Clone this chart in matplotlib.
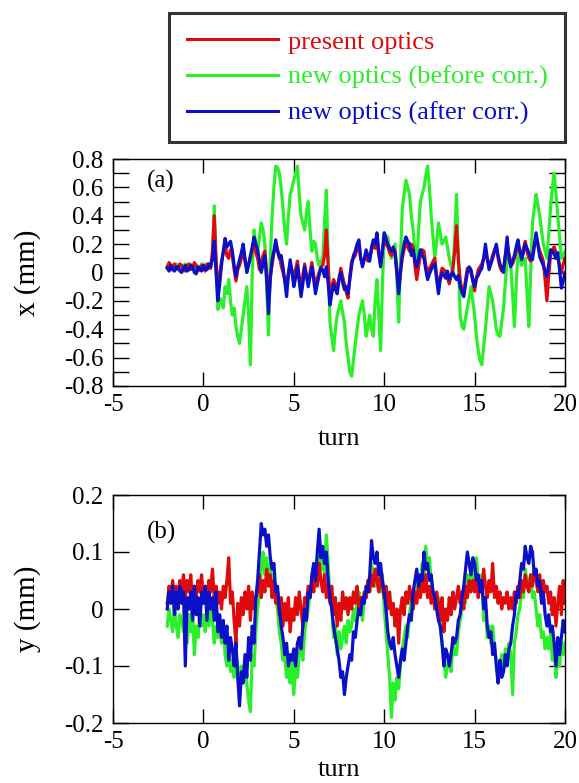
import numpy as np
import matplotlib
matplotlib.use("Agg")
import matplotlib.pyplot as plt
from matplotlib.ticker import MultipleLocator, FuncFormatter

plt.rcParams['font.family'] = ['Liberation Serif', 'DejaVu Serif']
plt.rcParams['axes.unicode_minus'] = False

# ---------------- data (sampled every 0.1 turn from -2 to 20) ----------------
turn_start, turn_end = -2.0, 20.0

# panel (a): horizontal orbit x (mm)
xa_present = [0.04, 0.07, 0.02, 0.04, 0.06, 0.02, 0.03, 0.06, 0.05, 0.02, 0.01, 0.05, 0.06, 0.02, 0.03, 0.07, 0.05, 0.01, 0.02, 0.05,
              0.04, 0.01, 0.06, 0.03, 0.03, 0.15, 0.40, 0.10, -0.15, -0.02, 0.08, 0.14, 0.20, 0.12, 0.10, 0.16, 0.12, 0.02, -0.06, 0.02,
              0.05, 0.10, 0.15, 0.08, 0.03, 0.06, 0.10, 0.16, 0.20, 0.14, 0.10, 0.02, 0.05, 0.12, 0.15, 0.00, -0.20, -0.02, 0.05, 0.14,
              0.20, 0.16, 0.12, 0.05, 0.00, -0.05, -0.10, 0.00, 0.06, 0.02, -0.05, 0.02, 0.08, -0.03, -0.12, -0.02, 0.06, -0.02, -0.08, 0.00,
              0.07, -0.02, -0.10, -0.04, 0.00, 0.04, 0.05, 0.12, 0.30, 0.05, -0.18, -0.10, -0.05, -0.08, -0.12, -0.04, 0.03, -0.03, -0.08, -0.14,
              -0.18, -0.02, 0.08, 0.10, 0.12, 0.17, 0.20, 0.10, 0.06, 0.09, 0.12, 0.08, 0.10, 0.16, 0.20, 0.17, 0.22, 0.12, 0.06, 0.15,
              0.25, 0.20, 0.18, 0.14, 0.12, 0.17, 0.15, 0.02, -0.12, 0.00, 0.10, 0.16, 0.22, 0.18, 0.15, 0.20, 0.18, 0.05, -0.05, 0.04,
              0.12, 0.16, 0.15, 0.05, -0.02, 0.03, 0.05, 0.08, 0.10, -0.02, -0.10, -0.03, 0.03, 0.02, 0.00, -0.04, -0.08, -0.02, 0.03, 0.15,
              0.33, 0.10, -0.05, -0.12, -0.15, -0.05, 0.03, 0.02, 0.00, -0.06, -0.13, -0.04, 0.02, 0.04, 0.06, 0.10, 0.15, 0.09, 0.05, 0.08,
              0.12, 0.16, 0.18, 0.10, 0.04, 0.01, 0.03, 0.12, 0.20, 0.13, 0.08, 0.06, 0.10, 0.15, 0.20, 0.15, 0.12, 0.17, 0.22, 0.15,
              0.10, 0.08, 0.12, 0.20, 0.25, 0.20, 0.15, 0.12, 0.08, -0.05, -0.20, -0.02, 0.12, 0.16, 0.18, 0.14, 0.10, 0.05, 0.00, 0.06,
              0.10]

xa_before = [0.04, 0.02, 0.06, 0.04, 0.03, 0.06, 0.05, 0.02, 0.02, 0.05, 0.06, 0.03, 0.04, 0.06, 0.03, 0.02, 0.05, 0.03, 0.04, 0.06,
             0.06, 0.02, 0.03, 0.06, 0.05, 0.10, 0.47, 0.05, -0.26, -0.18, -0.20, -0.25, -0.10, -0.15, -0.05, -0.20, -0.30, -0.25, -0.38, -0.45,
             -0.50, -0.40, -0.30, -0.20, -0.10, -0.30, -0.65, 0.00, 0.30, 0.20, 0.15, 0.25, 0.35, 0.30, 0.20, -0.10, -0.44, 0.10, 0.40, 0.60,
             0.75, 0.74, 0.70, 0.60, 0.45, 0.30, 0.20, 0.40, 0.55, 0.60, 0.65, 0.70, 0.75, 0.55, 0.40, 0.35, 0.30, 0.42, 0.50, 0.30,
             0.15, 0.22, 0.20, 0.10, 0.05, 0.08, 0.10, 0.35, 0.58, 0.10, -0.35, -0.45, -0.55, -0.40, -0.30, -0.25, -0.20, -0.28, -0.35, -0.50,
             -0.60, -0.70, -0.73, -0.62, -0.50, -0.40, -0.30, -0.25, -0.20, -0.30, -0.45, -0.38, -0.30, -0.40, -0.45, -0.20, -0.05, -0.30, -0.55, -0.10,
             0.28, 0.26, 0.25, 0.15, 0.10, 0.15, 0.20, -0.05, -0.35, 0.10, 0.45, 0.55, 0.65, 0.60, 0.55, 0.40, 0.30, 0.15, 0.05, 0.30,
             0.50, 0.55, 0.60, 0.68, 0.75, 0.60, 0.40, 0.25, 0.10, 0.22, 0.35, 0.28, 0.20, 0.22, 0.25, 0.18, 0.10, 0.05, 0.00, 0.25,
             0.55, 0.10, -0.30, -0.38, -0.40, -0.32, -0.25, -0.18, -0.10, -0.20, -0.30, -0.45, -0.55, -0.62, -0.65, -0.52, -0.40, -0.25, -0.10, -0.15,
             -0.20, -0.30, -0.40, -0.44, -0.45, -0.35, -0.25, -0.08, 0.10, 0.08, 0.05, -0.15, -0.38, -0.10, 0.15, 0.10, 0.05, 0.08, 0.10, -0.15,
             -0.38, 0.00, 0.35, 0.45, 0.55, 0.48, 0.40, 0.30, 0.20, 0.15, 0.10, 0.28, 0.45, 0.60, 0.70, 0.55, 0.40, 0.25, 0.10, 0.12,
             0.15]

xa_after = [0.03, 0.01, 0.05, 0.02, 0.01, 0.04, 0.04, 0.01, 0.00, 0.03, 0.05, 0.01, 0.02, 0.05, 0.04, 0.00, -0.01, 0.04, 0.03, 0.01,
            0.05, 0.02, 0.02, 0.06, 0.04, 0.10, 0.22, 0.00, -0.20, -0.08, 0.05, 0.15, 0.24, 0.18, 0.20, 0.22, 0.15, 0.05, -0.03, 0.04,
            0.09, 0.14, 0.20, 0.10, 0.00, 0.05, 0.12, 0.18, 0.25, 0.20, 0.16, 0.08, 0.00, 0.06, 0.12, -0.05, -0.29, -0.05, 0.09, 0.15,
            0.23, 0.15, 0.10, 0.12, 0.04, -0.06, -0.17, -0.02, 0.09, 0.00, -0.10, -0.04, 0.05, -0.06, -0.17, -0.08, 0.04, -0.03, -0.10, -0.02,
            0.04, -0.05, -0.15, -0.08, -0.02, 0.03, 0.02, -0.03, 0.04, -0.08, -0.23, -0.15, -0.08, -0.12, -0.15, -0.05, 0.00, -0.07, -0.12, -0.10,
            -0.15, -0.05, 0.05, 0.12, 0.15, 0.20, 0.23, 0.10, 0.04, 0.10, 0.16, 0.12, 0.08, 0.18, 0.23, 0.20, 0.28, 0.15, 0.04, 0.15,
            0.28, 0.24, 0.20, 0.17, 0.15, 0.18, 0.13, 0.00, -0.15, 0.00, 0.13, 0.20, 0.25, 0.22, 0.20, 0.12, 0.16, 0.08, 0.04, 0.10,
            0.16, 0.12, 0.10, 0.02, -0.05, -0.01, 0.02, 0.05, 0.06, -0.05, -0.15, -0.05, 0.00, -0.02, -0.04, 0.01, -0.05, -0.02, 0.00, -0.03,
            -0.05, -0.02, -0.10, -0.14, -0.17, -0.08, 0.00, 0.04, 0.02, -0.05, -0.10, -0.04, -0.02, 0.01, 0.03, 0.10, 0.20, 0.10, 0.02, 0.06,
            0.10, 0.15, 0.20, 0.12, 0.06, 0.03, 0.00, 0.12, 0.25, 0.10, 0.04, 0.08, 0.12, 0.18, 0.23, 0.15, 0.09, 0.14, 0.20, 0.17,
            0.14, 0.10, 0.09, 0.18, 0.28, 0.20, 0.11, 0.08, 0.05, 0.01, -0.03, 0.06, 0.16, 0.15, 0.13, 0.10, 0.14, 0.02, -0.11, -0.06,
            0.00]

# panel (b): vertical orbit y (mm)
yb_present = [0.01, 0.04, 0.02, 0.05, 0.02, 0.04, 0.01, 0.05, 0.03, 0.06,
              0.02, 0.05, 0.03, 0.06, 0.01, 0.04, 0.02, 0.05, 0.03, 0.06,
              0.02, 0.04, 0.01, 0.05, 0.03, 0.07, 0.02, 0.04, 0.01, 0.03,
              0.00, 0.04, 0.02, 0.05, 0.09, 0.01, 0.03, -0.02, -0.06, 0.01,
              -0.03, 0.02, -0.01, 0.03, 0.00, 0.04, -0.02, 0.03, 0.00, 0.02,
              0.03, 0.06, 0.02, 0.05, 0.03, 0.07, 0.04, 0.06, 0.02, 0.05,
              0.01, 0.03, -0.01, 0.02, -0.03, 0.01, -0.02, 0.02, -0.04, 0.00,
              -0.02, 0.02, -0.01, 0.03, 0.00, -0.03, 0.02, 0.01, 0.04, 0.02,
              0.05, 0.03, 0.07, 0.04, 0.08, 0.05, 0.03, 0.06, 0.02, 0.04,
              0.01, 0.04, -0.01, 0.02, -0.03, 0.01, -0.02, 0.03, 0.00, 0.02,
              -0.01, 0.02, 0.00, 0.03, 0.01, 0.04, 0.00, 0.02, 0.01, 0.03,
              0.02, 0.05, 0.03, 0.06, 0.04, 0.07, 0.05, 0.03, 0.06, 0.04,
              0.02, 0.04, 0.00, 0.03, -0.01, 0.01, -0.03, 0.00, -0.06, 0.00,
              0.02, -0.01, 0.03, 0.01, 0.04, 0.02, 0.00, 0.03, 0.01, 0.04,
              0.02, 0.05, 0.03, 0.06, 0.02, 0.04, 0.01, 0.03, 0.00, 0.03,
              0.01, -0.02, 0.02, -0.04, 0.00, -0.02, 0.02, -0.01, 0.03, 0.00,
              0.02, 0.04, 0.01, 0.03, 0.00, 0.04, 0.02, 0.05, 0.03, 0.05,
              0.03, 0.06, 0.02, 0.05, 0.03, 0.07, 0.04, 0.02, 0.05, 0.03,
              0.08, 0.02, 0.04, 0.01, 0.03, 0.00, 0.02, 0.01, 0.03, 0.00,
              0.02, 0.00, 0.03, 0.01, 0.04, 0.02, 0.05, 0.03, 0.06, 0.04,
              0.03, 0.06, 0.04, 0.07, 0.05, 0.03, 0.06, 0.02, 0.05, 0.03,
              0.04, 0.01, 0.03, -0.01, 0.02, -0.03, 0.01, 0.04, -0.01, 0.05,
              0.01]

yb_before = [-0.03, 0.00, -0.02, -0.04, 0.01, -0.03, -0.05, -0.01, -0.02, -0.04,
             -0.02, -0.06, -0.01, -0.04, 0.00, -0.08, -0.03, -0.05, -0.01, -0.03,
             -0.01, -0.04, 0.00, -0.03, 0.01, -0.02, -0.06, -0.03, -0.05, -0.02,
             -0.06, -0.03, -0.08, -0.10, -0.07, -0.11, -0.09, -0.12, -0.08, -0.10,
             -0.14, -0.10, -0.12, -0.09, -0.13, -0.16, -0.18, -0.08, -0.10, -0.04,
             0.00, 0.03, 0.07, 0.10, 0.06, 0.09, 0.05, 0.08, 0.04, 0.06,
             0.02, 0.00, -0.04, -0.06, -0.09, -0.08, -0.12, -0.10, -0.13, -0.09,
             -0.15, -0.10, -0.12, -0.08, -0.06, -0.09, -0.04, -0.02, 0.00, 0.03,
             0.05, 0.03, 0.08, 0.06, 0.10, 0.07, 0.09, 0.06, 0.13, 0.08,
             0.02, 0.00, -0.05, -0.03, -0.08, -0.04, -0.07, -0.05, -0.03, -0.06,
             -0.02, -0.04, -0.03, 0.00, -0.02, 0.01, 0.03, 0.00, -0.02, 0.02,
             0.02, 0.04, 0.05, 0.08, 0.06, 0.04, 0.07, 0.05, 0.03, 0.06,
             0.00, -0.04, -0.08, -0.12, -0.19, -0.13, -0.16, -0.12, -0.14, -0.10,
             -0.07, -0.05, -0.03, -0.05, -0.01, 0.02, 0.00, 0.05, 0.03, 0.06,
             0.04, 0.08, 0.06, 0.11, 0.07, 0.09, 0.05, 0.03, 0.00, 0.02,
             0.02, -0.03, -0.06, -0.09, -0.12, -0.10, -0.08, -0.11, -0.06, -0.08,
             -0.08, -0.04, -0.02, 0.00, 0.03, 0.01, 0.06, 0.04, 0.07, 0.05,
             0.07, 0.09, 0.05, 0.03, 0.06, -0.02, 0.00, -0.05, -0.03, -0.06,
             -0.03, -0.07, -0.09, -0.12, -0.10, -0.08, -0.11, -0.07, -0.09, -0.06,
             -0.08, -0.15, -0.06, -0.04, -0.01, 0.00, 0.04, 0.02, 0.07, 0.05,
             0.04, 0.06, 0.02, 0.03, 0.00, -0.03, -0.01, -0.05, -0.04, -0.07,
             -0.05, -0.07, -0.04, -0.09, -0.06, -0.12, -0.08, -0.10, -0.06, -0.08,
             -0.06]

yb_after = [0.00, 0.03, 0.01, 0.04, -0.01, 0.03, 0.00, 0.04, 0.01, 0.03,
            -0.10, 0.02, 0.00, 0.03, -0.02, 0.04, -0.01, 0.02, -0.03, 0.03,
            0.01, 0.04, -0.02, 0.03, 0.00, 0.02, -0.02, 0.03, -0.04, -0.01,
            -0.05, -0.02, -0.06, -0.03, -0.09, -0.05, -0.07, -0.10, -0.06, -0.12,
            -0.17, -0.11, -0.13, -0.08, -0.12, -0.05, -0.09, -0.03, -0.06, 0.02,
            0.05, 0.10, 0.15, 0.13, 0.14, 0.11, 0.13, 0.09, 0.07, 0.08,
            0.03, 0.04, 0.00, -0.03, -0.05, -0.08, -0.06, -0.10, -0.08, -0.09,
            -0.07, -0.10, -0.06, -0.05, -0.07, -0.03, 0.00, -0.02, 0.03, 0.02,
            0.06, 0.08, 0.05, 0.10, 0.14, 0.09, 0.11, 0.08, 0.10, 0.05,
            0.02, 0.00, -0.03, -0.05, -0.07, -0.09, -0.12, -0.11, -0.15, -0.12,
            -0.10, -0.08, -0.09, -0.04, -0.05, -0.02, 0.00, -0.01, 0.02, 0.01,
            0.04, 0.03, 0.06, 0.12, 0.09, 0.08, 0.10, 0.06, 0.08, 0.05,
            0.03, 0.00, -0.04, -0.06, -0.07, -0.05, -0.08, -0.10, -0.12, -0.09,
            -0.07, -0.09, -0.06, -0.03, -0.01, -0.02, 0.03, 0.05, 0.07, 0.04,
            0.06, 0.05, 0.10, 0.07, 0.08, 0.05, 0.06, 0.03, 0.02, 0.00,
            -0.02, -0.03, -0.06, -0.10, -0.07, -0.08, -0.10, -0.08, -0.05, -0.06,
            -0.05, -0.02, -0.01, 0.02, 0.04, 0.07, 0.10, 0.08, 0.06, 0.09,
            0.08, 0.05, 0.06, 0.03, 0.05, 0.00, 0.02, -0.03, -0.05, -0.04,
            -0.08, -0.06, -0.10, -0.13, -0.09, -0.12, -0.11, -0.08, -0.10, -0.07,
            -0.06, -0.03, -0.01, 0.03, 0.02, 0.05, 0.08, 0.07, 0.11, 0.09,
            0.08, 0.11, 0.10, 0.06, 0.07, 0.04, 0.05, 0.01, 0.03, -0.01,
            -0.03, -0.01, -0.04, -0.03, -0.06, -0.10, -0.05, -0.08, -0.05, -0.02,
            -0.04]

labels = ["present optics", "new optics (before corr.)", "new optics (after corr.)"]
colors = ["#e00a0a", "#2af02a", "#0a10c8"]

x_ticks = [-5, 0, 5, 10, 15, 20]

# ---------------- figure ----------------
W, H = 579, 783
fig = plt.figure(figsize=(W / 100, H / 100), dpi=100)


def frac(l, t, r, b):
    return [l / W, 1 - b / H, (r - l) / W, (b - t) / H]


ax_a = fig.add_axes(frac(113, 159, 565, 386))
ax_b = fig.add_axes(frac(113, 495, 565, 723))

fs_tick = 18
fs_xlab = 19
fs_ylab = 21
fs_leg = 19
lw = 2.3


def style(ax, ylim, major, minor, ylabel, tag, tag_y, xlab_y):
    ax.set_xlim(-5, 20)
    ax.set_ylim(*ylim)
    ax.set_xticks(x_ticks)
    ax.yaxis.set_major_locator(MultipleLocator(major))
    if minor:
        ax.yaxis.set_minor_locator(MultipleLocator(minor))
    ax.yaxis.set_major_formatter(FuncFormatter(lambda v, p: "%g" % round(v, 3)))
    ax.tick_params(axis='x', which='both', direction='in', top=True, bottom=True,
                   length=10, width=1.0, labelsize=fs_tick, pad=6)
    ax.tick_params(axis='y', which='both', direction='in', left=True, right=True,
                   length=11.5, width=1.0, labelsize=fs_tick, pad=7)
    for s in ax.spines.values():
        s.set_linewidth(1.0)
    ax.set_xlabel("turn", fontsize=fs_xlab)
    ax.set_ylabel(ylabel, fontsize=fs_ylab)
    ax.yaxis.set_label_coords(-0.16, 0.5)
    ax.xaxis.set_label_coords(0.5, xlab_y)
    ax.text(0.075, tag_y, tag, transform=ax.transAxes, fontsize=fs_tick,
            ha='left', va='center')


def draw(ax, series):
    handles = {}
    for k in [1, 0, 2]:  # green below, red, blue on top
        vals = series[k]
        t = np.linspace(turn_start, turn_end, len(vals))
        h, = ax.plot(t, vals, color=colors[k], lw=lw, label=labels[k])
        handles[k] = h
    return [handles[0], handles[1], handles[2]]


hs = draw(ax_a, [xa_present, xa_before, xa_after])
draw(ax_b, [yb_present, yb_before, yb_after])

style(ax_a, (-0.8, 0.8), 0.2, 0.1, "x (mm)", "(a)", 0.9, -42 / 227)
style(ax_b, (-0.2, 0.2), 0.1, None, "y (mm)", "(b)", 0.835, -36 / 228)

leg = fig.legend(handles=hs, labels=labels, loc='upper right',
                 bbox_to_anchor=(565 / W, 1 - 13 / H), bbox_transform=fig.transFigure,
                 fontsize=fs_leg, frameon=True, fancybox=False, borderaxespad=0,
                 handlelength=3.45, handletextpad=0.4, borderpad=0.65,
                 labelspacing=0.45)
leg.get_frame().set_edgecolor('black')
leg.get_frame().set_linewidth(2.2)
for txt, c in zip(leg.get_texts(), colors):
    txt.set_color(c)
for ln in leg.get_lines():
    ln.set_linewidth(2.2)

fig.savefig("out.png", dpi=100)
